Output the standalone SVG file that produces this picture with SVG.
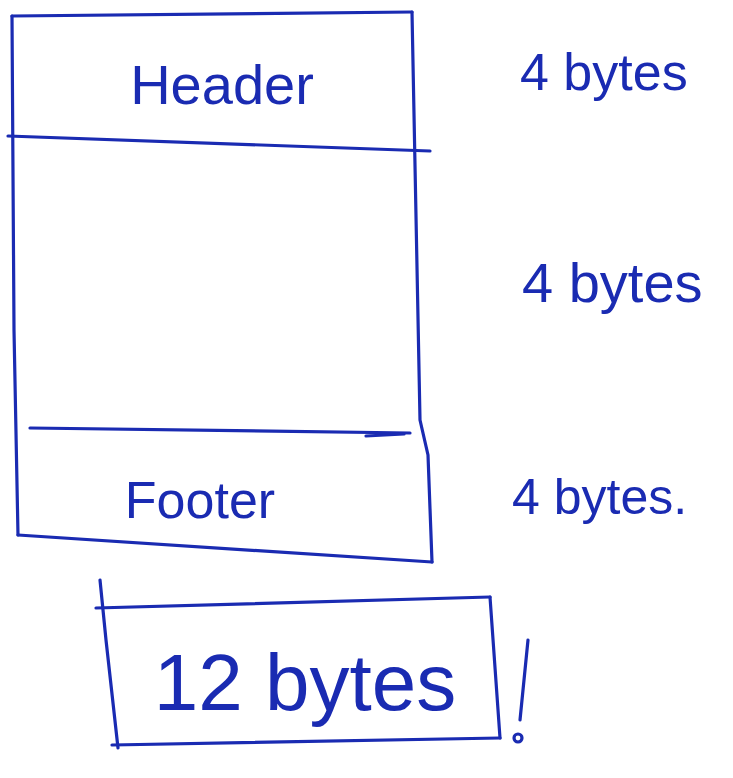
<svg xmlns="http://www.w3.org/2000/svg" width="733" height="778" viewBox="0 0 733 778">
<style>
.ink{fill:none;stroke:#1a2bb2;stroke-width:3.2;stroke-linecap:round;stroke-linejoin:round}
.t{fill:#1a2bb2;font-family:"Liberation Sans","DejaVu Sans",sans-serif}
</style>
<rect width="733" height="778" fill="#ffffff"/>
<g id="frame">
<path class="ink" d="M12,16 L412,12"/>
<path class="ink" d="M12,16 L14,330 L18,535"/>
<path class="ink" d="M412,12 L420,420 L428,455 L432,562"/>
<path class="ink" d="M18,535 L432,562"/>
</g>
<g id="header">
<path class="ink" d="M8,136 L430,151"/>
<text class="t" x="222" y="104" font-size="56" text-anchor="middle">Header</text>
</g>
<g id="body">
<text class="t" x="522" y="302" font-size="56">4 bytes</text>
</g>
<g id="footer">
<path class="ink" d="M30,428 L410,433"/>
<path class="ink" d="M366,436 L404,434"/>
<text class="t" x="200" y="518" font-size="52" text-anchor="middle">Footer</text>
</g>
<g id="sizes">
<text class="t" x="520" y="90" font-size="52">4 bytes</text>
<text class="t" x="512" y="514" font-size="50">4 bytes.</text>
</g>
<g id="total">
<path class="ink" d="M100,580 L106,640 L118,748"/>
<path class="ink" d="M96,608 L490,597"/>
<path class="ink" d="M490,597 L500,738"/>
<path class="ink" d="M112,745 L500,738"/>
<text class="t" x="305" y="710" font-size="80" text-anchor="middle">12 bytes</text>
<path class="ink" d="M528,640 L520,720"/>
<circle class="ink" cx="518" cy="738" r="4"/>
</g>
</svg>
